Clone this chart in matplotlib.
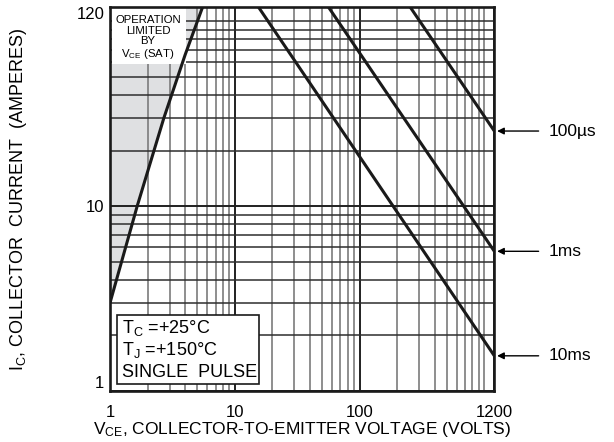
import matplotlib
matplotlib.use("Agg")
from matplotlib import pyplot as plt
from matplotlib.patches import Rectangle
from matplotlib.ticker import FixedLocator, NullFormatter

plt.rcParams['font.family'] = ['Liberation Sans', 'DejaVu Sans']
plt.rcParams['mathtext.default'] = 'regular'

# saturation limit (left boundary of the SOA)
v_sat = [1, 1.65, 2.7, 4.0, 5.53]
i_sat = [3.0, 10, 30, 66, 120]

# single pulse limits: (V, I) end points
pulse_labels = ["100\u00b5s", "1ms", "10ms"]
pulse_v = [[253, 1200], [56, 1200], [15.4, 1200]]
pulse_i = [[120, 25.5], [120, 5.7], [120, 1.55]]

x_ticks = [1, 10, 100, 1200]
x_ticklabels = ["1", "10", "100", "1200"]
y_ticks = [1, 10, 120]
y_ticklabels = ["1", "10", "120"]
x_minor = [2, 3, 4, 5, 6, 7, 8, 9, 20, 30, 40, 50, 60, 70, 80, 90,
           200, 300, 400, 500, 600, 700, 800, 900, 1000]
y_minor = [2, 3, 4, 5, 6, 7, 8, 9, 20, 30, 40, 50, 60, 70, 80, 90, 100]

fig = plt.figure(figsize=(6.14, 4.42), dpi=100)
ax = fig.add_axes([0.1792, 0.1154, 0.6259, 0.8694])
ax.set_xscale('log')
ax.set_yscale('log')
ax.set_xlim(1, 1200)
ax.set_ylim(1, 120)

# shaded area left of the saturation line
ax.fill_betweenx(i_sat, 1, v_sat, color='#dfe0e2', lw=0, zorder=0.2)

# grid
ax.set_axisbelow(True)
ax.xaxis.set_major_locator(FixedLocator(x_ticks))
ax.yaxis.set_major_locator(FixedLocator(y_ticks))
ax.xaxis.set_minor_locator(FixedLocator(x_minor))
ax.yaxis.set_minor_locator(FixedLocator(y_minor))
ax.xaxis.set_minor_formatter(NullFormatter())
ax.yaxis.set_minor_formatter(NullFormatter())
ax.set_xticklabels(x_ticklabels)
ax.set_yticklabels(y_ticklabels)
ax.xaxis.grid(True, which='major', color='#202020', lw=1.4)
ax.yaxis.grid(True, which='major', color='#202020', lw=1.4)
ax.xaxis.grid(True, which='minor', color='#7c7c7c', lw=1.2)
ax.yaxis.grid(True, which='minor', color='#2e2e2e', lw=1.1)
ax.tick_params(which='both', length=0)
ax.tick_params(axis='x', pad=10, labelsize=12)
ax.tick_params(axis='y', pad=4, labelsize=12)
yl = ax.get_yticklabels()
yl[0].set_verticalalignment('bottom')
yl[-1].set_verticalalignment('top')

for s in ax.spines.values():
    s.set_linewidth(1.9)
    s.set_color('#1a1a1a')
    s.set_zorder(5)

# white label box for saturation region
ax.add_patch(Rectangle((0.005, 0.852), 0.193, 0.148, transform=ax.transAxes,
                       facecolor='white', edgecolor='none', zorder=1))
ax.text(0.099, 0.978, "OPERATION\nLIMITED\nBY", transform=ax.transAxes,
        ha='center', va='top', fontsize=8.2, linespacing=1.05, zorder=2)
ax.text(0.099, 0.878, r"V$_{CE}$ (SAT)", transform=ax.transAxes,
        ha='center', va='center', fontsize=8.2, zorder=2)

# lines
ax.plot(v_sat, i_sat, color='#1a1a1a', lw=2.2, zorder=3, solid_capstyle='butt')
for v, i, lab in zip(pulse_v, pulse_i, pulse_labels):
    ax.plot(v, i, color='#1a1a1a', lw=2.2, zorder=3, solid_capstyle='butt')
    ax.annotate(lab, xy=(v[-1], i[-1]), xytext=(54, 0), textcoords='offset pixels',
                ha='left', va='center', fontsize=12.5, annotation_clip=False,
                arrowprops=dict(arrowstyle='-|>', color='black', lw=1.0,
                                shrinkA=5, shrinkB=2, mutation_scale=10))

# conditions box
ax.add_patch(Rectangle((0.0174, 0.018), 0.371, 0.180, transform=ax.transAxes,
                       facecolor='white', edgecolor='#1a1a1a', lw=1.2, zorder=4))
ax.text(0.030, 0.163, r"T$_C$ =+25°C", transform=ax.transAxes, ha='left', va='center',
        fontsize=13, zorder=4.5)
ax.text(0.030, 0.106, r"T$_J$ =+150°C", transform=ax.transAxes, ha='left', va='center',
        fontsize=13, zorder=4.5)
ax.text(0.030, 0.048, "SINGLE  PULSE", transform=ax.transAxes, ha='left', va='center',
        fontsize=13, zorder=4.5)

ax.set_xlabel(r"V$_{CE}$, COLLECTOR-TO-EMITTER VOLTAGE (VOLTS)", fontsize=12.5, labelpad=0)
ax.set_ylabel(r"I$_C$, COLLECTOR  CURRENT  (AMPERES)", fontsize=13, labelpad=34)

fig.savefig("out.png", dpi=100)
